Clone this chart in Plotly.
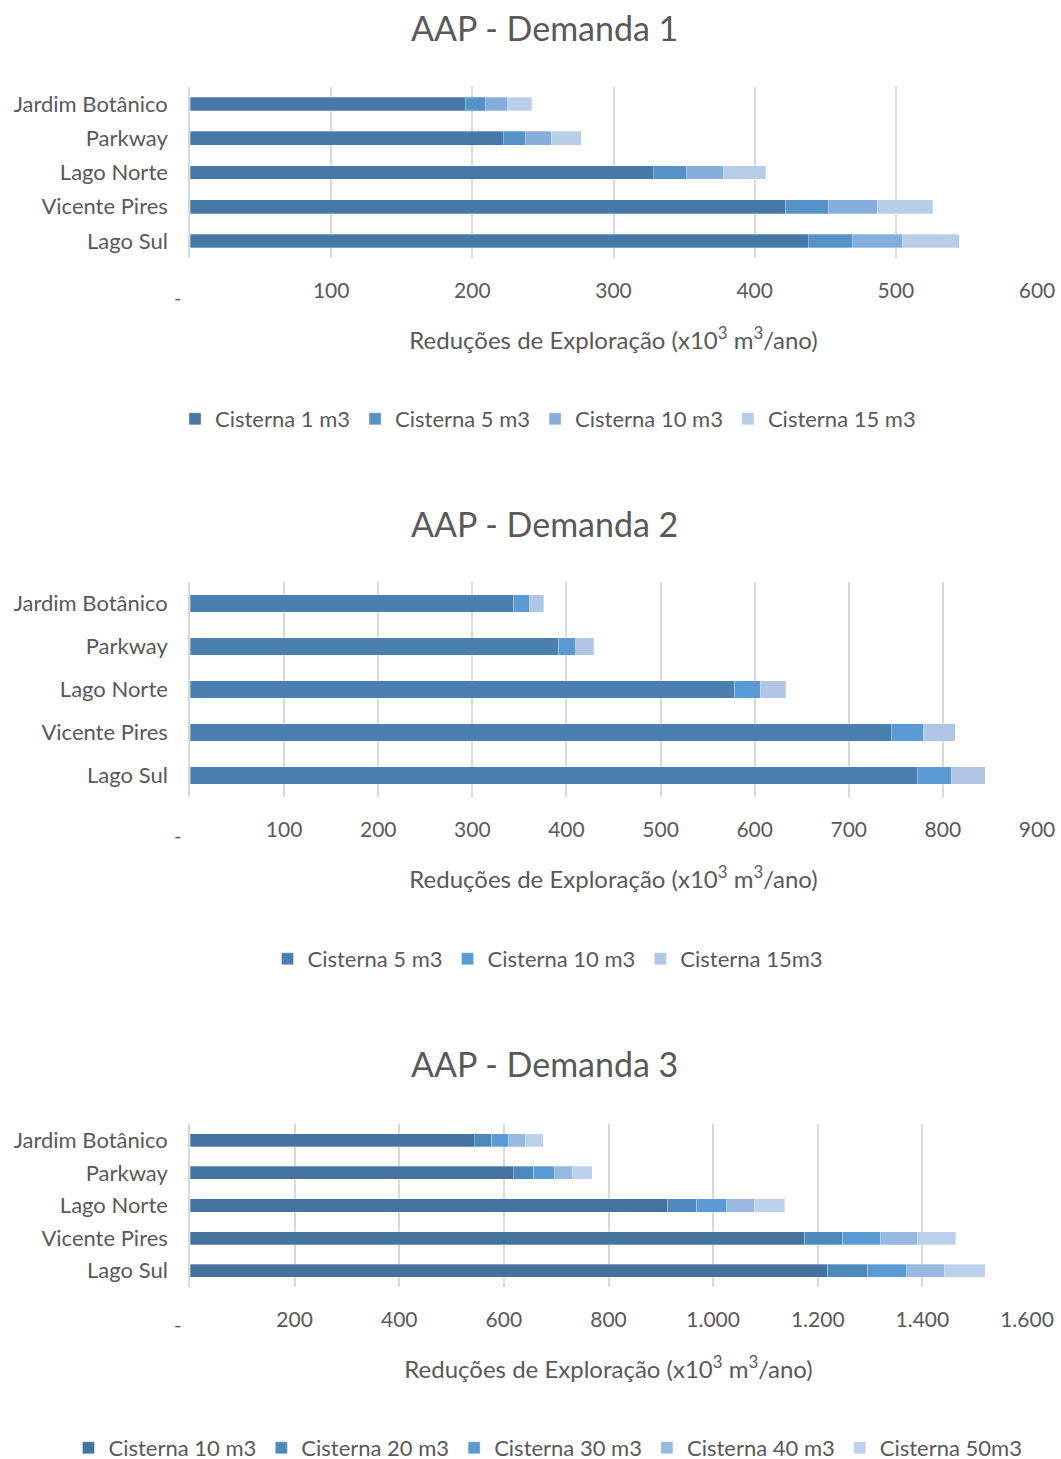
import plotly.graph_objects as go

W, H = 1061, 1469
REF_H = 1459  # positions below are measured on a 1459 px tall page

bairros = ["Jardim Botânico", "Parkway", "Lago Norte", "Vicente Pires", "Lago Sul"]

# AAP - Demanda 1 (x10^3 m3/ano), stacked increments
d1_names = ["Cisterna 1 m3", "Cisterna 5 m3", "Cisterna 10 m3", "Cisterna 15 m3"]
d1_c1 = [195, 222, 328, 422, 438]
d1_c5 = [14, 16, 24, 30, 31]
d1_c10 = [16, 18, 26, 35, 36]
d1_c15 = [17, 21, 30, 39, 40]
d1_colors = ["#4679A8", "#5592C8", "#86AEDC", "#B8CDE8"]

# AAP - Demanda 2
d2_names = ["Cisterna 5 m3", "Cisterna 10 m3", "Cisterna 15m3"]
d2_c5 = [344, 392, 579, 745, 773]
d2_c10 = [17, 18, 27, 34, 36]
d2_c15 = [15, 19, 27, 34, 36]
d2_colors = ["#4A7FB0", "#5B9BD5", "#AFC6E6"]

# AAP - Demanda 3
d3_names = ["Cisterna 10 m3", "Cisterna 20 m3", "Cisterna 30 m3", "Cisterna 40 m3", "Cisterna 50m3"]
d3_c10 = [543, 618, 913, 1175, 1219]
d3_c20 = [34, 39, 56, 73, 77]
d3_c30 = [32, 40, 57, 72, 74]
d3_c40 = [32, 34, 54, 70, 73]
d3_c50 = [34, 38, 57, 74, 77]
d3_colors = ["#44739F", "#4E89BD", "#5B9BD5", "#97B8E0", "#BDD1EC"]

ticks1 = [100, 200, 300, 400, 500, 600]
ticks2 = [100, 200, 300, 400, 500, 600, 700, 800, 900]
ticks3 = [200, 400, 600, 800, 1000, 1200, 1400, 1600]

GRAY = "#595959"
GRID = "#D9D9D9"
FONT = "Lato"


def px_y(p):
    return 1 - p / REF_H


def px_x(p):
    return p / W


fig = go.Figure()

charts = [
    (d1_names, [d1_c1, d1_c5, d1_c10, d1_c15], d1_colors, "", "legend"),
    (d2_names, [d2_c5, d2_c10, d2_c15], d2_colors, "2", "legend2"),
    (d3_names, [d3_c10, d3_c20, d3_c30, d3_c40, d3_c50], d3_colors, "3", "legend3"),
]
for names, series, colors, ax, leg in charts:
    for name, vals, col in zip(names, series, colors):
        fig.add_trace(
            go.Bar(
                y=bairros,
                x=vals,
                name=name,
                orientation="h",
                marker=dict(color=col, line=dict(color="rgba(255,255,255,0.6)", width=0.5)),
                xaxis="x" + ax,
                yaxis="y" + ax,
                legend=leg,
            )
        )


def fmt(v):
    return f"{v:,}".replace(",", ".")


def xaxis(domain, anchor, ticks, rng):
    return dict(
        domain=domain,
        anchor=anchor,
        range=rng,
        tickvals=ticks,
        ticktext=[fmt(t) for t in ticks],
        showgrid=True,
        gridcolor=GRID,
        gridwidth=1.5,
        zeroline=False,
        showline=False,
        tickfont=dict(size=21, color=GRAY, family=FONT),
        ticklabelstandoff=18,
        title=dict(
            text="Reduções de Exploração (x10<sup>3</sup> m<sup>3</sup>/ano)",
            font=dict(size=24, color=GRAY, family=FONT),
            standoff=31,
        ),
        automargin=False,
    )


def yaxis(domain, anchor):
    return dict(
        domain=domain,
        anchor=anchor,
        autorange="reversed",
        showgrid=False,
        showline=True,
        linecolor=GRID,
        linewidth=1.5,
        zeroline=False,
        tickfont=dict(size=22, color=GRAY, family=FONT),
        ticklabelstandoff=16,
        automargin=False,
    )


xd12 = [px_x(190), px_x(1037)]
xd3 = [px_x(190), px_x(1027)]

fig.update_layout(
    width=W,
    height=H,
    margin=dict(l=0, r=0, t=0, b=0),
    paper_bgcolor="white",
    plot_bgcolor="white",
    barmode="stack",
    bargap=0.6,
    font=dict(family=FONT, color=GRAY),
    xaxis=xaxis(xd12, "y", ticks1, [0, 600]),
    yaxis=yaxis([px_y(258), px_y(87)], "x"),
    xaxis2=xaxis(xd12, "y2", ticks2, [0, 900]),
    yaxis2=yaxis([px_y(797), px_y(582)], "x2"),
    xaxis3=xaxis(xd3, "y3", ticks3, [0, 1600]),
    yaxis3=yaxis([px_y(1287), px_y(1124)], "x3"),
)

for leg, yc in [("legend", 419), ("legend2", 959), ("legend3", 1448)]:
    fig.update_layout(
        {
            leg: dict(
                orientation="h",
                x=px_x(548),
                xanchor="center",
                y=px_y(yc),
                yanchor="middle",
                font=dict(size=22, color=GRAY, family=FONT),
                itemwidth=30,
                traceorder="normal",
                bgcolor="rgba(0,0,0,0)",
            )
        }
    )

for txt, yc in [("AAP - Demanda 1", 27), ("AAP - Demanda 2", 523), ("AAP - Demanda 3", 1063)]:
    fig.add_annotation(
        text=txt,
        x=px_x(544),
        y=px_y(yc),
        xref="paper",
        yref="paper",
        xanchor="center",
        yanchor="middle",
        showarrow=False,
        font=dict(size=34, color=GRAY, family=FONT),
    )

# Excel-style "-" for zero
for ax, yc in [("x", 297), ("x2", 835), ("x3", 1324)]:
    fig.add_annotation(
        text="-",
        x=0,
        xref=ax,
        xshift=-13,
        y=px_y(yc),
        yref="paper",
        yanchor="middle",
        showarrow=False,
        font=dict(size=20, color=GRAY, family=FONT),
    )

fig.write_html(
    "out.html",
    config={"displayModeBar": False},
    post_script="document.body.style.margin='0';document.body.style.overflow='hidden';",
)
